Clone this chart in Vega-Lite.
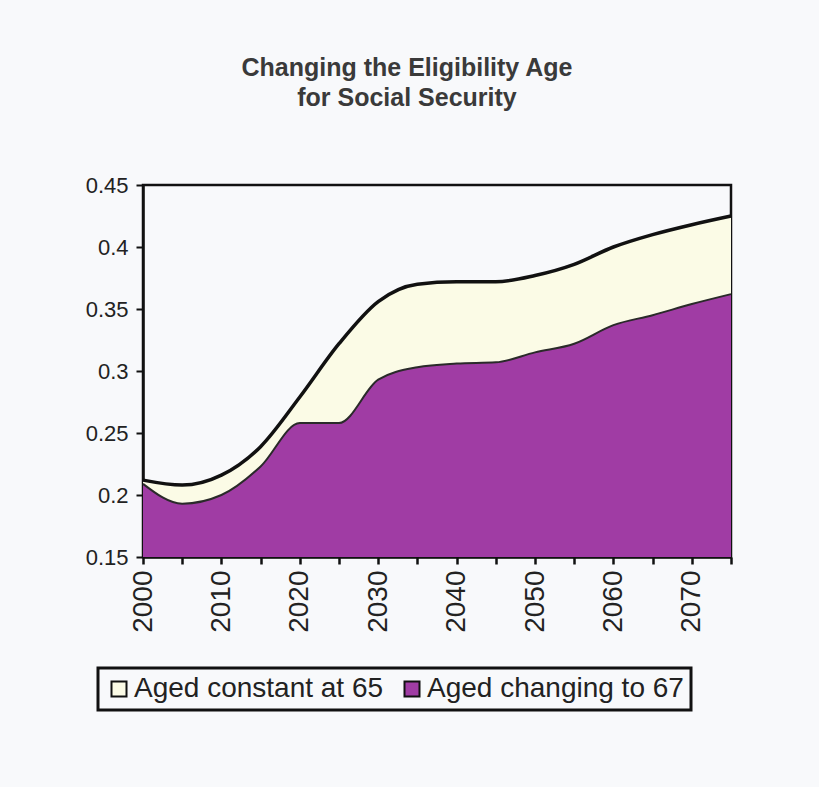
{
  "$schema": "https://vega.github.io/schema/vega-lite/v6.json",
  "autosize": "none",
  "width": 588,
  "height": 372,
  "padding": {"left": 143, "top": 185, "right": 88, "bottom": 230},
  "background": "#f8f9fb",
  "title": {
    "text": ["Changing the Eligibility Age", "for Social Security"],
    "font": "Liberation Sans",
    "fontSize": 25,
    "fontWeight": "bold",
    "color": "#3a3a3a",
    "lineHeight": 30,
    "offset": 63,
    "dx": -30
  },
  "config": {
    "view": {"stroke": "#111", "strokeWidth": 2.5},
    "font": "Liberation Sans"
  },
  "data": {
    "values": [
      {"year": 2000, "c65": 0.212, "c67": 0.209},
      {"year": 2005, "c65": 0.208, "c67": 0.193},
      {"year": 2010, "c65": 0.216, "c67": 0.200},
      {"year": 2015, "c65": 0.239, "c67": 0.223},
      {"year": 2020, "c65": 0.279, "c67": 0.258},
      {"year": 2025, "c65": 0.322, "c67": 0.258},
      {"year": 2030, "c65": 0.356, "c67": 0.293},
      {"year": 2035, "c65": 0.370, "c67": 0.303},
      {"year": 2040, "c65": 0.372, "c67": 0.306},
      {"year": 2045, "c65": 0.372, "c67": 0.307},
      {"year": 2050, "c65": 0.377, "c67": 0.315},
      {"year": 2055, "c65": 0.386, "c67": 0.322},
      {"year": 2060, "c65": 0.400, "c67": 0.337},
      {"year": 2065, "c65": 0.410, "c67": 0.345},
      {"year": 2070, "c65": 0.418, "c67": 0.354},
      {"year": 2075, "c65": 0.425, "c67": 0.362}
    ]
  },
  "encoding": {
    "x": {
      "field": "year",
      "type": "quantitative",
      "scale": {"domain": [2000, 2075], "nice": false},
      "axis": {
        "title": null,
        "values": [2000, 2005, 2010, 2015, 2020, 2025, 2030, 2035, 2040, 2045, 2050, 2055, 2060, 2065, 2070, 2075],
        "format": "d",
        "labelExpr": "datum.value % 10 == 0 ? datum.label : ''",
        "labelAngle": -90,
        "labelFontSize": 28,
        "labelColor": "#222",
        "labelPadding": 6,
        "grid": false,
        "domainColor": "#111",
        "domainWidth": 2.5,
        "tickColor": "#111",
        "tickWidth": 2.5,
        "tickSize": 7
      }
    }
  },
  "layer": [
    {
      "mark": {"type": "area", "opacity": 1, "interpolate": "monotone"},
      "encoding": {
        "y": {
          "field": "c65",
          "type": "quantitative",
          "scale": {"domain": [0.15, 0.45], "zero": false, "nice": false},
          "axis": {
            "title": null,
            "values": [0.15, 0.2, 0.25, 0.3, 0.35, 0.4, 0.45],
            "format": "~g",
            "labelFontSize": 22,
            "labelColor": "#222",
            "labelPadding": 8,
            "grid": false,
            "domainColor": "#111",
            "domainWidth": 2.5,
            "tickColor": "#111",
            "tickWidth": 2,
            "tickSize": 7
          }
        },
        "y2": {"datum": 0.15},
        "color": {
          "datum": "Aged constant at 65",
          "scale": {"domain": ["Aged constant at 65", "Aged changing to 67"], "range": ["#fbfbe6", "#a03ca4"]},
          "legend": {
            "title": null,
            "orient": "none",
            "legendX": -45,
            "legendY": 483,
            "direction": "horizontal",
            "symbolType": "square",
            "symbolSize": 225,
            "symbolStrokeColor": "#111",
            "symbolStrokeWidth": 2,
            "symbolOpacity": 1,
            "labelFontSize": 28,
            "labelLimit": 0,
            "labelColor": "#222",
            "labelOffset": 1,
            "columnPadding": 14,
            "padding": 7,
            "strokeColor": "#111",
            "encode": {"legend": {"update": {"strokeWidth": {"value": 3}}}}
          }
        }
      }
    },
    {
      "mark": {"type": "area", "opacity": 1, "interpolate": "monotone"},
      "encoding": {
        "y": {"field": "c67", "type": "quantitative"},
        "y2": {"datum": 0.15},
        "color": {"datum": "Aged changing to 67"}
      }
    },
    {
      "mark": {"type": "line", "color": "#2a2a2a", "strokeWidth": 2, "interpolate": "monotone"},
      "encoding": {
        "y": {"field": "c67", "type": "quantitative"}
      }
    },
    {
      "mark": {"type": "line", "color": "#111", "strokeWidth": 3.5, "interpolate": "monotone"},
      "encoding": {
        "y": {"field": "c65", "type": "quantitative"}
      }
    }
  ]
}
